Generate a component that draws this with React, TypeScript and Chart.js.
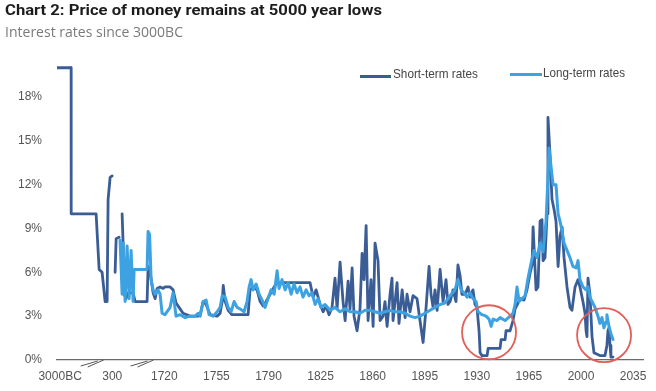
import React, { useEffect, useRef } from "react";
import { Chart, registerables } from "chart.js";

Chart.register(...registerables);

// ---- Axis ticks (broken x-axis: evenly spaced labels) ----
const tickLabels = ["3000BC", "300", "1720", "1755", "1790", "1825", "1860", "1895", "1930", "1965", "2000", "2035"];
const tickYears = [-3000, 300, 1720, 1755, 1790, 1825, 1860, 1895, 1930, 1965, 2000, 2035];
const yTickValues = [0, 3, 6, 9, 12, 15, 18];

// ---- Short-term rates (%), null = gap in the record ----
const shortYears = [
  -3300, -2303, -2300, -720, -529, -340, -149, -23, 40, 168, 294, 330,
  379, 407, 488, 530,
  570, 597, 624, 679, 733, 869, 925, 1251, 1278, 1333, 1415, 1469, 1524, 1605, 1687,
  1720.5, 1723.9, 1725.9, 1727.9, 1730.6, 1732.6, 1737.3, 1742.7, 1744.1, 1746.1, 1748.1, 1750.8,
  1755.5, 1757.5, 1758.9, 1759.6, 1760.9, 1762.9, 1765.5, 1770.9, 1776.3, 1777.6, 1779.7, 1782.3,
  1784.4, 1786.4, 1788.4, 1791.1, 1793.8, 1795.8, 1817.9, 1820.0, 1822.0, 1824.7, 1826.7, 1828.7,
  1830.7, 1832.7, 1834.7, 1836.1, 1838.1, 1840.1, 1841.5, 1843.5, 1844.8, 1846.2, 1847.5, 1849.5,
  1851.5, 1852.9, 1854.2, 1855.6, 1856.9, 1858.9, 1860.3, 1861.6, 1863.6, 1865.0, 1867.0, 1868.3,
  1869.7, 1871.7, 1873.0, 1873.7, 1876.4, 1877.7, 1879.8, 1881.8, 1883.1, 1885.1, 1887.1, 1889.8,
  1891.8, 1893.9, 1895.9, 1897.9, 1899.2, 1900.6, 1901.9, 1903.3, 1905.3, 1907.3, 1909.3, 1910.6,
  1912.0, 1914.0, 1916.0, 1917.3, 1918.7, 1920.0, 1922.1, 1924.1, 1925.4, 1927.4, 1928.8, 1930.1,
  1931.5, 1932.2, 1933.5, 1936.9, 1937.6, 1945.6, 1946.3, 1949.0, 1949.6, 1952.3, 1954.3, 1955.7,
  1957.7, 1959.0, 1961.7, 1963.7, 1965.7, 1967.1, 1967.8, 1969.8, 1971.1, 1972.5, 1973.8, 1974.5,
  1975.8, 1977.2, 1977.8, 1979.2, 1980.5, 1981.9, 1983.2, 1984.6, 1985.9, 1987.3, 1988.6, 1990.6,
  1992.6, 1993.9, 1996.0, 1998.0, 1999.3, 2001.3, 2002.7, 2003.4, 2004.0, 2004.7, 2006.0, 2007.4,
  2008.7, 2012.7, 2016.1, 2017.4, 2018.1, 2018.8, 2019.5, 2020.1, 2021.5,
];
const shortRates = [
  20, 20, 10, 10, 6.2, 6, 4, 4, 11, 12.5, 12.6, null,
  6, 8.3, 8.4, null,
  10, 8, 4.5, 4.2, 4.6, 4.6, 4.0, 4.0, 6.4, 6.0, 4.6, 4.2, 4.9, 5.0, 4.9,
  5.0, 5.0, 4.8, 3.9, 3.5, 3.2, 3.0, 3.0, 3.1, 4.0, 3.8, 3.1,
  3.0, 3.2, 4.0, 5.1, 4.0, 3.4, 3.1, 3.1, 3.1, 4.8, 5.0, 4.8,
  4.0, 3.7, 4.0, 4.5, 5.0, 5.3, 5.3, 4.3, 4.8, 3.8, 3.3, 3.7,
  3.1, 3.6, 5.6, 3.5, 6.7, 4.0, 2.7, 5.4, 3.5, 6.3, 3.0, 2.0,
  3.5, 7.3, 5.5, 9.2, 2.7, 5.5, 2.3, 8.0, 6.8, 2.7, 3.0, 4.0,
  2.3, 4.5, 5.6, 2.7, 5.3, 2.5, 4.8, 2.9, 4.5, 3.3, 4.4, 4.2,
  2.7, 1.2, 3.6, 6.4, 4.5, 3.6, 4.8, 3.4, 6.2, 4.0, 5.5, 3.8,
  4.0, 4.8, 4.0, 6.5, 5.8, 4.5, 4.5, 5.0, 4.3, 4.8, 3.8, 3.6,
  2.0, 0.5, 0.3, 0.3, 0.8, 0.8, 1.4, 1.4, 2.0, 2.0, 2.7, 3.5,
  3.9, 4.2, 4.1, 4.8, 5.9, 6.5, 9.1, 4.8, 5.0, 9.5, 9.6, 6.8,
  7.0, 10.0, 16.6, 14.0, 11.0, 10.3, 9.5, 6.4, 8.5, 9.1, 7.0, 5.0,
  3.6, 3.4, 5.0, 5.5, 5.0, 4.0, 3.2, 2.0, 1.6, 5.6, 4.5, 1.6,
  0.5, 0.3, 0.3, 1.0, 2.0, 2.2, 1.0, 0.2, 0.2,
];

// ---- Long-term rates (%) ----
const longYears = [
  515, 570, 597, 652, 706, 761, 815, 869, 897, 1251, 1278, 1319, 1360, 1415, 1469, 1551, 1605, 1660,
  1720.5, 1723.9, 1725.9, 1727.9, 1730.6, 1734.0, 1737.3, 1740.7, 1742.7, 1744.1, 1746.1, 1748.1,
  1750.1, 1752.8, 1755.5, 1757.5, 1758.9, 1760.9, 1762.9, 1764.9, 1766.9, 1768.9, 1770.9, 1773.6,
  1775.6, 1777.0, 1778.3, 1779.7, 1781.7, 1783.7, 1785.7, 1787.7, 1789.7, 1791.7, 1793.8, 1795.8,
  1797.1, 1799.1, 1801.2, 1803.2, 1805.2, 1807.2, 1809.2, 1811.2, 1813.2, 1815.3, 1817.3, 1819.3,
  1821.3, 1823.3, 1825.3, 1828.0, 1831.4, 1834.7, 1838.1, 1841.5, 1844.8, 1848.2, 1851.5, 1854.9,
  1858.2, 1861.6, 1865.0, 1868.3, 1871.7, 1875.0, 1878.4, 1881.8, 1885.1, 1888.5, 1891.8, 1895.2,
  1898.6, 1901.9, 1905.3, 1908.6, 1912.0, 1915.3, 1917.3, 1919.4, 1921.4, 1923.4, 1925.4, 1927.4,
  1929.5, 1930.8, 1933.5, 1936.2, 1938.2, 1939.6, 1940.9, 1943.6, 1945.6, 1949.0, 1952.3, 1954.3,
  1955.7, 1957.0, 1958.4, 1960.4, 1962.4, 1964.4, 1966.4, 1968.4, 1970.5, 1972.5, 1974.5, 1976.5,
  1977.8, 1978.5, 1979.9, 1981.2, 1983.2, 1984.6, 1985.9, 1987.3, 1988.6, 1990.6, 1992.6, 1994.6,
  1996.7, 1998.0, 1999.3, 2001.3, 2003.4, 2004.7, 2006.0, 2007.4, 2009.4, 2011.4, 2012.7, 2014.1,
  2015.4, 2016.8, 2017.4, 2018.8, 2020.1, 2021.5,
];
const longRates = [
  8.2, 4.5, 8.0, 4.0, 7.8, 4.2, 7.5, 4.0, 6.2, 6.2, 8.8, 8.6, 5.5, 4.8, 4.5, 4.8, 4.5, 3.2,
  3.1, 3.6, 4.6, 3.0, 3.1, 2.9, 3.0, 3.0, 3.2, 3.0, 4.0, 4.1,
  3.1, 3.0, 3.3, 3.6, 4.4, 4.3, 3.6, 3.3, 4.0, 3.6, 3.5, 3.3,
  4.0, 5.0, 5.5, 4.8, 5.2, 4.5, 4.1, 3.6, 4.2, 4.8, 4.5, 6.1,
  4.9, 5.5, 4.8, 5.3, 4.5, 5.2, 4.6, 5.0, 4.3, 4.8, 4.4, 4.6,
  3.8, 4.2, 3.6, 3.8, 3.4, 3.6, 3.3, 3.5, 3.3, 3.3, 3.2, 3.4,
  3.4, 3.3, 3.2, 3.3, 3.4, 3.3, 3.3, 3.2, 3.0, 2.9, 3.0, 3.2,
  3.4, 3.6, 3.8, 3.9, 4.4, 4.8, 5.5, 4.8, 4.6, 4.3, 4.6, 4.2,
  4.0, 3.3, 3.1, 3.0, 2.8, 2.3, 2.8, 2.7, 2.9, 2.7, 3.0, 3.2,
  3.8, 5.0, 4.0, 4.2, 4.4, 5.6, 6.6, 7.5, 7.0, 8.0, 7.4, 9.5,
  12.5, 14.5, 13.2, 12.0, 12.0, 10.0, 9.5, 8.8, 8.0, 7.5, 7.0, 6.4,
  6.3, 6.8, 5.5, 5.0, 4.8, 5.0, 4.3, 4.0, 3.6, 3.0, 2.5, 2.9,
  2.2, 2.6, 3.1, 2.3, 1.8, 1.4,
];

// Highlighted lows (year, rate) and axis break locations (years)
const circleMarks: [number, number][] = [[1938.2, 1.9], [2015.5, 1.7]];
const breakYears = [-1000, 1100];

const TITLE = "Chart 2: Price of money remains at 5000 year lows";
const SUBTITLE = "Interest rates since 3000BC";
const SERIES_NAMES = ["Short-term rates", "Long-term rates"];

const DARK = "#3a5d95";
const LIGHT = "#3da2e2";

// Map a year onto the broken, evenly-labelled axis
function toPos(year: number): number {
  const n = tickYears.length;
  let i = 0;
  if (year <= tickYears[0]) i = 0;
  else if (year >= tickYears[n - 1]) i = n - 2;
  else {
    while (i < n - 2 && year > tickYears[i + 1]) i++;
  }
  return i + (year - tickYears[i]) / (tickYears[i + 1] - tickYears[i]);
}

const decorPlugin = {
  id: "decor",
  afterDatasetsDraw(chart: any) {
    const { ctx, chartArea } = chart;
    const xs = chart.scales.x;
    const ys = chart.scales.y;
    ctx.save();
    ctx.strokeStyle = "#e0605a";
    ctx.lineWidth = 1.8;
    circleMarks.forEach(([yr, v]) => {
      const cx = xs.getPixelForValue(toPos(yr));
      const cy = ys.getPixelForValue(v);
      ctx.beginPath();
      ctx.arc(cx, cy, 27, 0, Math.PI * 2);
      ctx.stroke();
    });
    ctx.strokeStyle = "#555";
    ctx.lineWidth = 1;
    const by = chartArea.bottom;
    breakYears.forEach((yr) => {
      const cx = xs.getPixelForValue(toPos(yr));
      ctx.beginPath();
      ctx.moveTo(cx - 11, by + 6);
      ctx.lineTo(cx + 6, by + 1);
      ctx.moveTo(cx - 4, by + 7);
      ctx.lineTo(cx + 12, by);
      ctx.stroke();
    });
    ctx.restore();
  },
};

export default function App() {
  const canvasRef = useRef<HTMLCanvasElement | null>(null);
  const titleRef = useRef<HTMLSpanElement | null>(null);
  const subRef = useRef<HTMLSpanElement | null>(null);
  const leg1Ref = useRef<HTMLSpanElement | null>(null);
  const leg2Ref = useRef<HTMLSpanElement | null>(null);

  useEffect(() => {
    const fits: [HTMLSpanElement | null, number][] = [
      [titleRef.current, 377],
      [subRef.current, 178],
      [leg1Ref.current, 85],
      [leg2Ref.current, 82],
    ];
    fits.forEach(([el, target]) => {
      if (!el) return;
      el.style.transform = "none";
      const w = el.getBoundingClientRect().width;
      if (w > 0) el.style.transform = `scaleX(${target / w})`;
    });

    const font = { family: "'Liberation Sans', Arial, sans-serif", size: 12 };
    const chart = new Chart(canvasRef.current as HTMLCanvasElement, {
      type: "line",
      data: {
        datasets: [
          {
            label: SERIES_NAMES[1],
            data: longYears.map((yr, i) => ({ x: toPos(yr), y: longRates[i] })),
            borderColor: LIGHT,
            borderWidth: 3,
            pointRadius: 0,
            tension: 0,
            borderJoinStyle: "round",
            borderCapStyle: "round",
          },
          {
            label: SERIES_NAMES[0],
            data: shortYears.map((yr, i) => ({ x: toPos(yr), y: shortRates[i] as any })),
            borderColor: DARK,
            borderWidth: 2.8,
            pointRadius: 0,
            tension: 0,
            spanGaps: false,
            borderJoinStyle: "round",
            borderCapStyle: "round",
          },
        ],
      },
      options: {
        responsive: false,
        animation: false,
        devicePixelRatio: 1,
        layout: { padding: { top: 60, right: 13, left: 0, bottom: 0 } },
        plugins: { legend: { display: false }, tooltip: { enabled: false } },
        scales: {
          x: {
            type: "linear",
            min: -0.06,
            max: 11.19,
            grid: { display: false, drawTicks: false },
            border: { display: true, color: "#6a6a6a", width: 1.3 },
            ticks: {
              font,
              color: "#555",
              padding: 9,
              maxRotation: 0,
              autoSkip: false,
              callback: (v: any) => tickLabels[Math.round(Number(v))] ?? "",
            },
            afterBuildTicks: (s: any) => {
              s.ticks = tickLabels.map((_, i) => ({ value: i }));
            },
            afterFit: (s: any) => {
              s.height = 31;
            },
          },
          y: {
            min: 0,
            max: 20.53,
            grid: { display: false, drawTicks: false },
            border: { display: false },
            ticks: {
              font,
              color: "#555",
              padding: 15,
              callback: (v: any) => `${v}%`,
            },
            afterBuildTicks: (s: any) => {
              s.ticks = yTickValues.map((v) => ({ value: v }));
            },
            afterFit: (s: any) => {
              s.width = 57;
            },
          },
        },
      } as any,
      plugins: [decorPlugin],
    });
    return () => chart.destroy();
  }, []);

  const textBase: React.CSSProperties = {
    position: "absolute",
    whiteSpace: "nowrap",
    display: "inline-block",
    transformOrigin: "left center",
    lineHeight: 1,
  };

  return (
    <div style={{ position: "fixed", left: 0, top: 0, width: 656, height: 391, background: "#fff", overflow: "hidden" }}>
      <canvas ref={canvasRef} width={656} height={391} style={{ position: "absolute", left: 0, top: 0, width: 656, height: 391 }} />
      <span
        ref={titleRef}
        style={{ ...textBase, left: 5, top: 3, fontFamily: "Roboto, 'Open Sans', sans-serif", fontWeight: 700, fontSize: 15, color: "#1c1c1c" }}
      >
        {TITLE}
      </span>
      <span
        ref={subRef}
        style={{ ...textBase, left: 5, top: 24, fontFamily: "'Open Sans', Roboto, sans-serif", fontWeight: 400, fontSize: 15, color: "#7a7a7a" }}
      >
        {SUBTITLE}
      </span>
      <div style={{ position: "absolute", left: 360, top: 75, width: 31, height: 3, background: DARK }} />
      <span
        ref={leg1Ref}
        style={{ ...textBase, left: 393, top: 67, fontFamily: "'Liberation Sans', Arial, sans-serif", fontSize: 13, color: "#444" }}
      >
        {SERIES_NAMES[0]}
      </span>
      <div style={{ position: "absolute", left: 510, top: 73, width: 32, height: 3, background: LIGHT }} />
      <span
        ref={leg2Ref}
        style={{ ...textBase, left: 543, top: 66, fontFamily: "'Liberation Sans', Arial, sans-serif", fontSize: 13, color: "#444" }}
      >
        {SERIES_NAMES[1]}
      </span>
    </div>
  );
}
